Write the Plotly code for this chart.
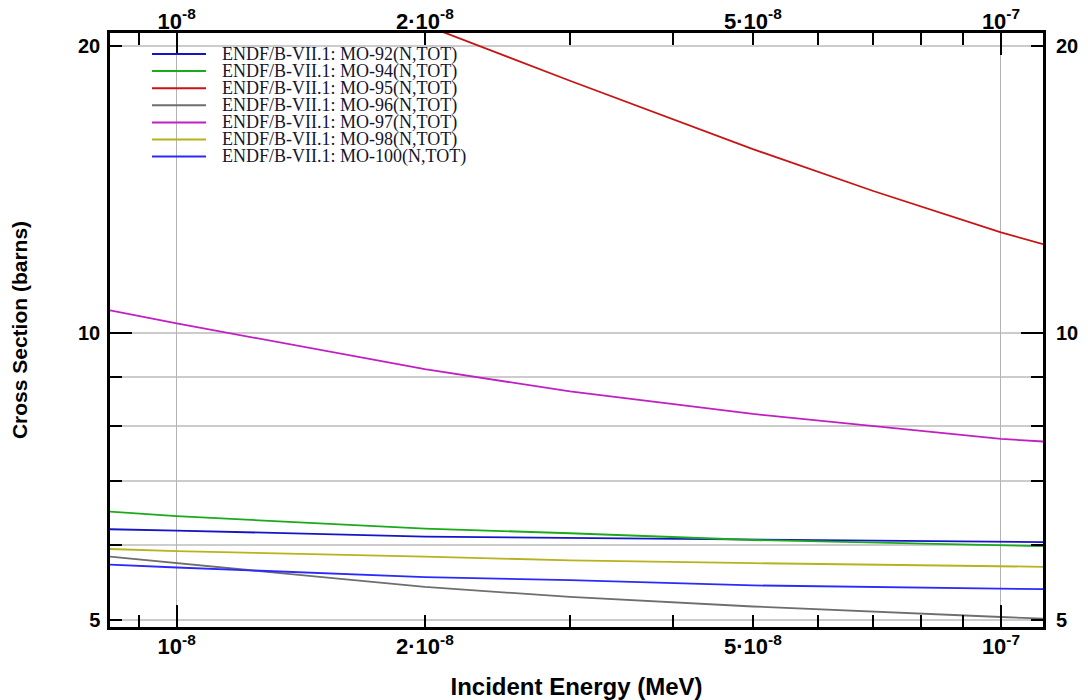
import plotly.graph_objects as go
import math

# Energies (MeV) at which the curves were read
energy = [8.3e-9, 1e-8, 2e-8, 3e-8, 5e-8, 1e-7, 1.125e-7]
mo92 = [6.23, 6.21, 6.12, 6.10, 6.07, 6.04, 6.04]
mo94 = [6.50, 6.43, 6.24, 6.17, 6.07, 6.00, 5.98]
mo96 = [5.83, 5.74, 5.42, 5.29, 5.17, 5.04, 5.02]
mo97 = [10.57, 10.24, 9.17, 8.69, 8.23, 7.75, 7.70]
mo98 = [5.94, 5.91, 5.83, 5.78, 5.74, 5.70, 5.69]
mo100 = [5.72, 5.68, 5.55, 5.51, 5.44, 5.40, 5.39]
energy95 = [2.0e-8, 2.11e-8, 3e-8, 5e-8, 7e-8, 1e-7, 1.125e-7]
mo95 = [21.2, 20.68, 18.4, 15.6, 14.1, 12.76, 12.4]

x_major = [1e-8, 2e-8, 5e-8, 1e-7]
x_major_text = ["10<sup>-8</sup>", "2·10<sup>-8</sup>", "5·10<sup>-8</sup>", "10<sup>-7</sup>"]
x_minor = [9e-9, 3e-8, 4e-8, 6e-8, 7e-8, 8e-8, 9e-8]
x_decades = [1e-8, 1e-7]
y_major = [5, 10, 20]
y_major_text = ["5", "10", "20"]
y_minor = [6, 7, 8, 9]
y_decades = [10]

names = ["ENDF/B-VII.1: MO-92(N,TOT)", "ENDF/B-VII.1: MO-94(N,TOT)",
         "ENDF/B-VII.1: MO-95(N,TOT)", "ENDF/B-VII.1: MO-96(N,TOT)",
         "ENDF/B-VII.1: MO-97(N,TOT)", "ENDF/B-VII.1: MO-98(N,TOT)",
         "ENDF/B-VII.1: MO-100(N,TOT)"]
xs_all = [energy, energy, energy95, energy, energy, energy, energy]
ys_all = [mo92, mo94, mo95, mo96, mo97, mo98, mo100]
colors = ["#1515c8", "#1aaa1a", "#c81414", "#6e6e6e", "#c21fc2", "#b8b21e", "#2a2aff"]
# subplot (overlay) used by each trace so that all mirrored axes get drawn
axes_of = [("x", "y"), ("x2", "y2"), ("x3", "y3"), ("x", "y"), ("x", "y"), ("x", "y"), ("x", "y")]

xr = [math.log10(8.30e-9), math.log10(1.1246e-7)]
yr = [math.log10(4.92), math.log10(20.65)]

# page geometry (the page body adds an 8px offset)
OFF = 8
W, H = 1088 - OFF, 700 - OFF
L, R, T, B = 102, 45, 25, 73
PX0, PX1 = OFF + L, OFF + W - R
PY0, PY1 = OFF + T, OFF + H - B


def paper_x(px):
    return (px - PX0) / (PX1 - PX0)


def paper_y(py):
    return (PY1 - py) / (PY1 - PY0)


fig = go.Figure()
for name, xs, ys, col, (xa, ya) in zip(names, xs_all, ys_all, colors, axes_of):
    fig.add_trace(go.Scatter(x=xs, y=ys, mode="lines", name=name, xaxis=xa, yaxis=ya,
                             line=dict(color=col, width=1.8), showlegend=False))

# legend drawn as text + sample lines (tight row spacing as in the reference)
leg_font = dict(family="Liberation Serif, Times New Roman, serif", size=18, color="#15152a")
row0, row_gap = 54, 17.1
for i, (name, col) in enumerate(zip(names, colors)):
    yy = paper_y(row0 + i * row_gap)
    fig.add_shape(type="line", xref="paper", yref="paper",
                  x0=paper_x(152), x1=paper_x(206), y0=yy, y1=yy,
                  line=dict(color=col, width=2))
    fig.add_annotation(xref="paper", yref="paper", x=paper_x(220), y=yy,
                       xanchor="left", yanchor="middle", text=name, showarrow=False,
                       font=leg_font)

tickfont_x = dict(family="Liberation Sans, Arial", size=22, color="black", weight="bold")
tickfont_y = dict(family="Liberation Sans, Arial", size=20, color="black", weight="bold")
common_x = dict(type="log", range=xr, automargin=False)
common_y = dict(type="log", range=yr, automargin=False)

fig.update_layout(
    width=W, height=H,
    margin=dict(l=L, r=R, t=T, b=B),
    plot_bgcolor="white", paper_bgcolor="white",
    showlegend=False,
    xaxis=dict(**common_x, side="bottom", anchor="y",
               tickvals=x_major, ticktext=x_major_text, tickfont=tickfont_x,
               ticks="inside", ticklen=12, tickwidth=2, tickcolor="black",
               ticklabelstandoff=-2,
               showgrid=False, zeroline=False,
               showline=True, linecolor="black", linewidth=2.5, mirror="ticks",
               minor=dict(tickvals=x_minor, ticks="inside", ticklen=12, tickwidth=2,
                          tickcolor="black", showgrid=False),
               title=dict(text="Incident Energy (MeV)", standoff=29,
                          font=dict(family="Liberation Sans, Arial", size=24, color="black", weight="bold"))),
    xaxis3=dict(**common_x, overlaying="x", side="bottom", anchor="y3",
                tickvals=x_decades, ticks="inside", ticklen=22, tickwidth=2, tickcolor="black",
                showticklabels=False, showgrid=True, gridcolor="#b4b4b4", gridwidth=1,
                zeroline=False, showline=True, linecolor="black", linewidth=2.5, mirror="ticks"),
    xaxis2=dict(**common_x, overlaying="x", side="top", anchor="y2",
                tickvals=x_major, ticktext=x_major_text, tickfont=tickfont_x,
                ticklabelstandoff=-1,
                ticks="", showgrid=False, zeroline=False, showline=False),
    yaxis=dict(**common_y, side="left", anchor="x",
               tickvals=y_major, ticktext=y_major_text, tickfont=tickfont_y,
               ticks="inside", ticklen=12, tickwidth=2, tickcolor="black",
               ticklabelstandoff=3,
               showgrid=True, gridcolor="#cccccc", gridwidth=2, zeroline=False,
               showline=True, linecolor="black", linewidth=2.5, mirror="ticks",
               minor=dict(tickvals=y_minor, ticks="inside", ticklen=12, tickwidth=2,
                          tickcolor="black", showgrid=True, gridcolor="#cccccc", gridwidth=2),
               title=dict(text="Cross Section (barns)", standoff=46,
                          font=dict(family="Liberation Sans, Arial", size=21, color="black", weight="bold"))),
    yaxis3=dict(**common_y, overlaying="y", side="left", anchor="x3",
                tickvals=y_decades, ticks="inside", ticklen=22, tickwidth=2, tickcolor="black",
                showticklabels=False, showgrid=False, zeroline=False,
                showline=True, linecolor="black", linewidth=2.5, mirror="ticks"),
    yaxis2=dict(**common_y, overlaying="y", side="right", anchor="x2",
                tickvals=y_major, ticktext=y_major_text, tickfont=tickfont_y,
                ticklabelstandoff=12,
                ticks="", showgrid=False, zeroline=False, showline=False),
)

fig.write_html("out.html")
